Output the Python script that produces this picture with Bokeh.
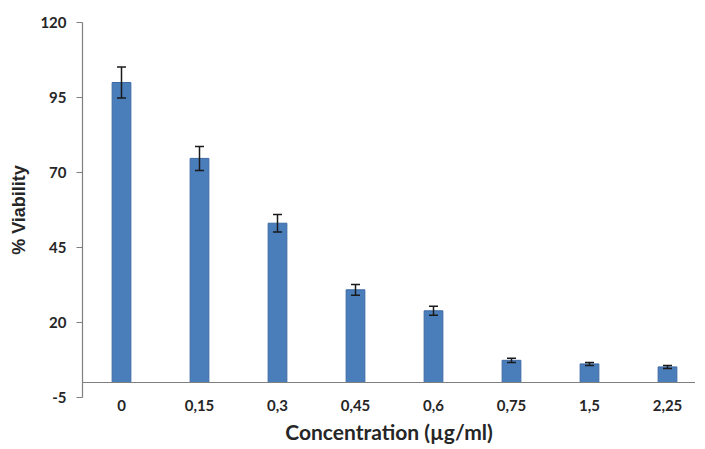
from bokeh.plotting import figure
from bokeh.models import ColumnDataSource, Whisker, TeeHead, FixedTicker, Span, Range1d
from bokeh.embed import file_html
from bokeh.resources import INLINE

concentrations = ["0", "0,15", "0,3", "0,45", "0,6", "0,75", "1,5", "2,25"]
viability = [100.0, 74.7, 53.1, 30.9, 23.9, 7.4, 6.2, 5.2]
errors = [5.2, 4.0, 2.9, 1.8, 1.5, 0.7, 0.5, 0.5]
y_ticks = [-5, 20, 45, 70, 95, 120]
y_tick_labels = ["-5", "20", "45", "70", "95", "120"]

idx = list(range(len(concentrations)))
src = ColumnDataSource(dict(
    x=idx, top=viability,
    upper=[v + e for v, e in zip(viability, errors)],
    lower=[v - e for v, e in zip(viability, errors)],
))

p = figure(frame_width=613, frame_height=375, output_backend="svg", toolbar_location=None,
           x_range=Range1d(-0.5, -0.5 + 613 / 78), y_range=Range1d(-5, 120),
           min_border_left=82, min_border_right=0, min_border_top=22, min_border_bottom=46)
p.outline_line_color = None
p.xgrid.grid_line_color = None
p.ygrid.grid_line_color = None

p.vbar(x="x", top="top", bottom=0, width=0.24, source=src,
       fill_color="#4a7ebb", line_color="#3d6aa3", line_width=1)

w = Whisker(base="x", upper="upper", lower="lower", source=src, level="overlay",
            line_color="#1a1a1a", line_width=1.5,
            upper_head=TeeHead(size=9, line_color="#1a1a1a", line_width=1.5),
            lower_head=TeeHead(size=9, line_color="#1a1a1a", line_width=1.5))
p.add_layout(w)

p.add_layout(Span(location=0, dimension="width", line_color="#7f7f7f", line_width=1.2))

font = "Lato"
p.xaxis.ticker = FixedTicker(ticks=idx)
p.xaxis.major_label_overrides = {i: c for i, c in zip(idx, concentrations)}
p.xaxis.axis_line_color = None
p.xaxis.major_tick_line_color = None
p.xaxis.major_tick_out = 0
p.xaxis.major_tick_in = 0
p.xaxis.minor_tick_line_color = None
p.xaxis.minor_tick_out = 0
p.xaxis.major_label_standoff = 2
p.xaxis.axis_label = "Concentration (µg/ml)"
p.xaxis.axis_label_standoff = 5
p.xaxis.axis_label_text_font = font
p.xaxis.axis_label_text_font_size = "21px"

p.yaxis.ticker = FixedTicker(ticks=y_ticks)
p.yaxis.major_label_overrides = {t: s for t, s in zip(y_ticks, y_tick_labels)}
p.yaxis.axis_line_color = "#7f7f7f"
p.yaxis.axis_line_width = 1.2
p.yaxis.major_tick_line_color = "#7f7f7f"
p.yaxis.major_tick_out = 6
p.yaxis.major_tick_in = 0
p.yaxis.minor_tick_line_color = None
p.yaxis.major_label_standoff = 10
p.yaxis.axis_label = "% Viability"
p.yaxis.axis_label_standoff = 8
p.yaxis.axis_label_text_font = "Liberation Sans"
p.yaxis.axis_label_text_font_size = "18px"

for ax in (p.xaxis, p.yaxis):
    ax.major_label_text_font = font
    ax.major_label_text_font_style = "bold"
    ax.major_label_text_font_size = "15px"
    ax.major_label_text_color = "#262626"
    ax.axis_label_text_font_style = "bold"
    ax.axis_label_text_color = "#262626"

open("out.html", "w").write(file_html(p, INLINE))
